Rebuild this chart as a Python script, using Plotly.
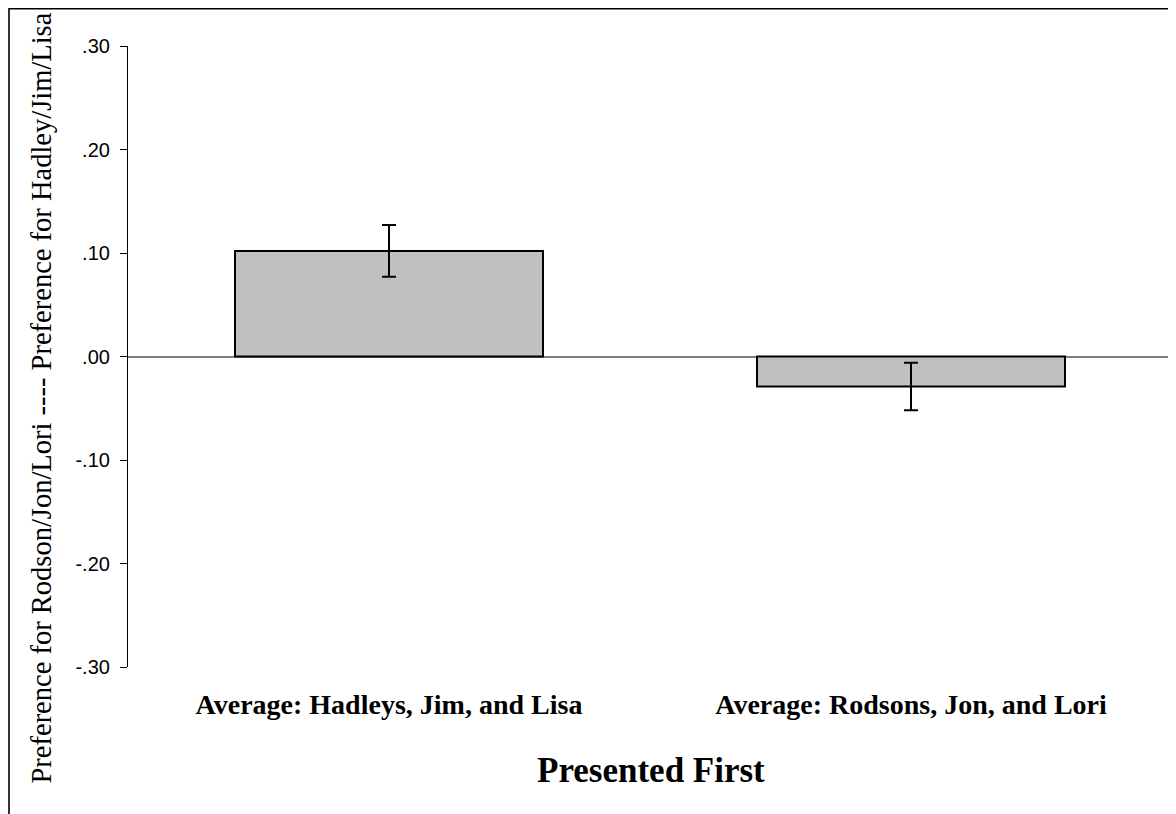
import plotly.graph_objects as go

categories = ["Average: Hadleys, Jim, and Lisa", "Average: Rodsons, Jon, and Lori"]
means = [0.102, -0.029]
errors = [0.025, 0.023]
tick_vals = [-0.30, -0.20, -0.10, 0.00, 0.10, 0.20, 0.30]
tick_text = ["-.30", "-.20", "-.10", ".00", ".10", ".20", ".30"]
y_title = "Preference for Rodson/Jon/Lori ---- Preference for Hadley/Jim/Lisa"
x_title = "Presented First"

# page has an 8px body margin; figure sized to fit the viewport
W, H = 1168, 806
ML, MR, MT, MB = 120, 4, 38, 147
pw = W - ML - MR
ph = H - MT - MB

def px_to_paper_x(px):
    return (px - ML) / pw

def px_to_paper_y(py):
    return (H - MB - py) / ph

fig = go.Figure()
fig.add_trace(go.Bar(
    x=categories, y=means,
    marker=dict(color="#C0C0C0", line=dict(color="black", width=2)),
    width=0.59,
    error_y=dict(type="data", array=errors, visible=True, color="black", thickness=2, width=7),
    showlegend=False,
))

fig.update_layout(
    width=W, height=H,
    margin=dict(l=ML, r=MR, t=MT, b=MB),
    paper_bgcolor="white", plot_bgcolor="white",
    font=dict(family="Liberation Serif", color="black"),
    xaxis=dict(
        showline=False, showgrid=False, ticks="",
        tickvals=categories,
        ticktext=["<b>" + c + "</b>" for c in categories],
        tickfont=dict(family="Liberation Serif", size=28, color="black"),
        ticklabelstandoff=18,
    ),
    yaxis=dict(
        range=[-0.30, 0.30], tickvals=tick_vals, ticktext=tick_text,
        showline=True, linecolor="black", linewidth=1.2,
        ticks="outside", ticklen=7, tickcolor="black", tickwidth=1.2,
        showgrid=False,
        zeroline=True, zerolinecolor="#808080", zerolinewidth=1.6,
        tickfont=dict(family="Liberation Sans", size=20, color="black"),
        ticklabelstandoff=6,
    ),
    annotations=[
        dict(text=y_title, xref="paper", yref="paper",
             x=px_to_paper_x(32.5), y=px_to_paper_y(390), xanchor="center", yanchor="middle",
             textangle=-90, showarrow=False,
             font=dict(family="Liberation Serif", size=28.5, color="black")),
        dict(text="<b>" + x_title + "</b>", xref="paper", yref="paper",
             x=px_to_paper_x(642.5), y=px_to_paper_y(762), xanchor="center", yanchor="middle",
             showarrow=False,
             font=dict(family="Liberation Serif", size=35, color="black")),
    ],
    shapes=[
        dict(type="line", xref="paper", yref="paper",
             x0=px_to_paper_x(1), x1=px_to_paper_x(W + 10), y0=px_to_paper_y(0.6), y1=px_to_paper_y(0.6),
             line=dict(color="black", width=1.6)),
        dict(type="line", xref="paper", yref="paper",
             x0=px_to_paper_x(1), x1=px_to_paper_x(1), y0=px_to_paper_y(0), y1=px_to_paper_y(H + 10),
             line=dict(color="black", width=1.6)),
    ],
)

fig.write_html("out.html")
